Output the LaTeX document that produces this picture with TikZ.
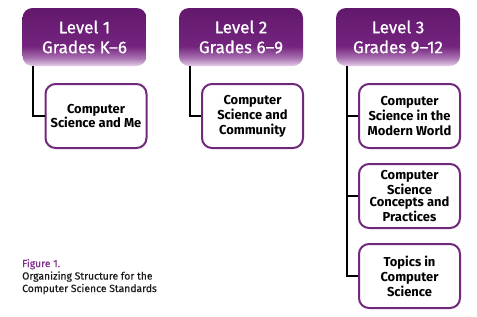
\documentclass[tikz,border=0pt]{standalone}
\usepackage{fontspec}
\setmainfont{Fira Sans}
\newfontfamily\hdrfont{Fira Sans}[Ligatures=TeX, FakeBold=0.8]
\newfontfamily\capfont{Fira Sans}[Ligatures=TeX, FakeBold=0.4]
\usetikzlibrary{positioning}

\definecolor{plumTop}{RGB}{98,24,108}
\definecolor{plumMain}{RGB}{116,36,126}
\definecolor{plumFade}{RGB}{168,112,176}
\definecolor{plumLight}{RGB}{228,208,232}
\definecolor{plumLine}{RGB}{112,40,122}
\definecolor{capText}{RGB}{30,26,30}
\definecolor{capPlum}{RGB}{130,48,140}

\pgfdeclareverticalshading{levelshade}{100bp}{color(0bp)=(plumLight); color(25bp)=(plumLight);
  color(32bp)=(plumFade); color(42bp)=(plumMain); color(75bp)=(plumTop); color(100bp)=(plumTop)}

\tikzset{
  levelbox/.style={rounded corners=10bp, minimum width=124bp, minimum height=58bp,
    inner sep=0pt, align=center, text=white, shading=levelshade,
    font=\hdrfont\fontsize{17}{20}\selectfont},
  topicbox/.style={draw=plumLine, line width=2bp, fill=white, rounded corners=10bp,
    minimum width=101bp, minimum height=64bp, inner sep=0pt, align=center,
    font=\bfseries\fontsize{13}{15}\selectfont},
  link/.style={line width=1.6bp, black}
}

\begin{document}
\begin{tikzpicture}[x=1bp, y=-1bp]
            \useasboundingbox (0,0) rectangle (477,316);

            % Definitions
            \def\stemIn{11}

            % Level headers
            \node[levelbox] (lvlA) at (84.5,37) {Level 1\\Grades K--6};
            \node[levelbox] (lvlB) at (241,37) {Level 2\\Grades 6--9};
            \node[levelbox] (lvlC) at (398,37) {Level 3\\Grades 9--12};

            % Topic boxes
            \node[topicbox] (meA) at (96,116) {Computer\\Science and Me};
            \node[topicbox] (communityB) at (252.5,116) {Computer\\Science and\\Community};
            \node[topicbox] (worldC) at (409.5,116) {Computer\\Science in the\\Modern World};
            \node[topicbox, below=14bp of worldC, font=\bfseries\fontsize{13}{13}\selectfont] (practicesC) {Computer\\Science\\Concepts and\\Practices};
            \node[topicbox, below=14bp of practicesC] (topicsC) {Topics in\\Computer\\Science};

            % Connectors
            \draw[link] ([xshift=\stemIn]lvlA.south west) |- (meA.west);
            \draw[link] ([xshift=\stemIn]lvlB.south west) |- (communityB.west);
            \draw[link] ([xshift=\stemIn]lvlC.south west) |- (worldC.west);
            \draw[link] ([xshift=\stemIn]lvlC.south west) |- (practicesC.west);
            \draw[link] ([xshift=\stemIn]lvlC.south west) |- (topicsC.west);

            % Caption
            \node[anchor=base west, align=left, inner sep=0pt, text=capText,
              font=\capfont\fontsize{10.4}{12.5}\selectfont] (caption) at (22,292)
              {\textcolor{capPlum}{Figure 1.}\\Organizing Structure for the\\Computer Science Standards};
\end{tikzpicture}
\end{document}
